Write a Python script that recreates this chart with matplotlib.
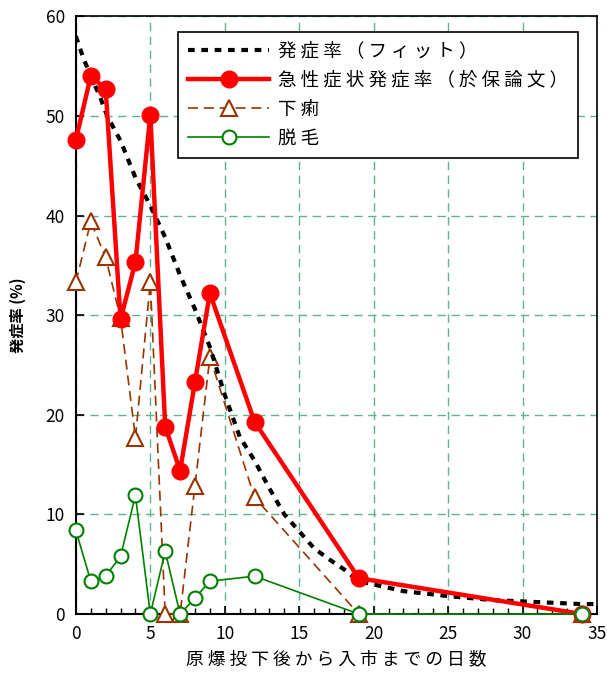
import matplotlib
matplotlib.use("Agg")
import matplotlib.pyplot as plt
from matplotlib.ticker import MultipleLocator

plt.rcParams['font.family'] = ['Noto Sans CJK JP', 'DejaVu Sans']

days = [0, 1, 2, 3, 4, 5, 6, 7, 8, 9, 12, 19, 34]
acute = [47.6, 54.0, 52.7, 29.6, 35.3, 50.1, 18.8, 14.4, 23.3, 32.2, 19.3, 3.6, 0.0]
diarrhea = [33.3, 39.4, 35.8, 29.7, 17.7, 33.3, 0.0, 0.0, 12.9, 25.8, 11.7, 0.0, 0.0]
hair_loss = [8.4, 3.3, 3.8, 5.8, 11.9, 0.0, 6.3, 0.0, 1.6, 3.3, 3.8, 0.0, 0.0]

fit_x = [0, 0.5, 1, 1.6, 2.1, 3, 4, 5, 6, 7, 8, 9, 10, 11, 12, 13, 14, 15, 16, 17, 18, 19, 22, 25, 28, 31, 34, 35]
fit_y = [58.0, 55.8, 54.0, 52.0, 50.0, 47.5, 43.8, 41.0, 37.8, 34.0, 30.6, 26.8, 22.0, 17.8, 15.4, 12.6,
         10.0, 8.3, 6.6, 5.5, 4.5, 3.3, 2.3, 1.8, 1.4, 1.2, 1.0, 1.0]

lab_fit = "発 症 率 （ フ ィ ッ ト ）"
lab_acute = "急 性 症 状 発 症 率 （ 於 保 論 文 ）"
lab_diarrhea = "下 痢"
lab_hair = "脱 毛"
xlabel = "原 爆 投 下 後 か ら 入 市 ま で の 日 数"
ylabel = "発症率 (%)"

fig = plt.figure(figsize=(6.07, 6.77), dpi=100)
ax = fig.add_axes([0.125, 0.093, 0.8585, 0.883])

h_d, = ax.plot(days, diarrhea, color='#993300', lw=1.2, ls=(0, (6, 3.5)), marker='^', ms=12,
               mfc='white', mec='#993300', mew=1.5, clip_on=False, zorder=3, label=lab_diarrhea)
h_f, = ax.plot(fit_x, fit_y, color='black', lw=3, ls=(0, (1.6, 1.6)), zorder=4, label=lab_fit)
h_a, = ax.plot(days, acute, color='#ff0000', lw=3.2, marker='o', ms=12, mfc='#ff0000', mec='#ff0000',
               clip_on=False, zorder=5, label=lab_acute)
h_h, = ax.plot(days, hair_loss, color='#008000', lw=1.2, marker='o', ms=10, mfc='white', mec='#008000',
               mew=1.5, clip_on=False, zorder=6, label=lab_hair)

ax.set_xlim(0, 35)
ax.set_ylim(0, 60)
ax.xaxis.set_major_locator(MultipleLocator(5))
ax.xaxis.set_minor_locator(MultipleLocator(1))
ax.yaxis.set_major_locator(MultipleLocator(10))
ax.tick_params(axis='both', which='both', direction='in', labelsize=12.5, colors='black')
ax.tick_params(axis='both', which='major', length=6, width=1.2, pad=8)
ax.tick_params(axis='x', which='minor', length=4, width=1)
ax.grid(True, which='major', color='#5fb58a', ls=(0, (6, 4)), lw=1)
for s in ax.spines.values():
    s.set_linewidth(1.5)
    s.set_color('black')
ax.spines['top'].set_linewidth(1.2)
ax.spines['right'].set_linewidth(1.2)

ax.set_xlabel(xlabel, fontsize=12.8, labelpad=5)
ax.set_ylabel(ylabel, fontsize=11, fontweight='bold', labelpad=14)

leg = ax.legend(handles=[h_f, h_a, h_d, h_h], loc='upper left', bbox_to_anchor=(0.196, 0.973),
                fontsize=13.3, handlelength=4.4, handletextpad=0.45, labelspacing=0.6,
                frameon=True, fancybox=False, edgecolor='black', framealpha=1,
                borderpad=0.55, borderaxespad=0)
leg.get_frame().set_linewidth(1.2)
leg.set_zorder(10)

fig.savefig("out.png", dpi=100)
